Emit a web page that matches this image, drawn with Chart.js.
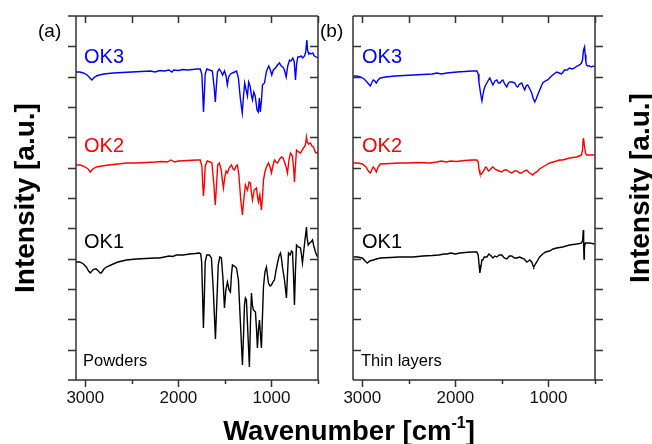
<!DOCTYPE html>
<html>
<head>
<meta charset="utf-8">
<script src="https://cdn.jsdelivr.net/npm/chart.js@4.4.1/dist/chart.umd.min.js"></script>
<style>
  html, body { margin: 0; padding: 0; background: #fff; }
  #wrap { position: relative; width: 652px; height: 444px; overflow: hidden; font-family: "Liberation Sans", Arial, sans-serif; }
  canvas { position: absolute; left: 0; top: 0; }
  .t { position: absolute; white-space: nowrap; line-height: 1; }
  .rot { position: absolute; white-space: nowrap; line-height: 1; font-weight: bold; font-size: 28px; color: #000; text-align: center; width: 260px; transform: translate(-50%, -50%) rotate(-90deg); }
</style>
</head>
<body>
<div id="wrap">
  <canvas id="ca" width="652" height="444"></canvas>
  <canvas id="cb" width="652" height="444"></canvas>
</div>
<script>
// ---------- DATA (wavenumber in cm^-1, intensity in a.u., offset-stacked) ----------
const seriesNames = ['OK3', 'OK2', 'OK1'];
const seriesColors = ['#0000ff', '#ff0000', '#000000'];
const panelTitles = ['(a)', '(b)'];
const panelNotes = ['Powders', 'Thin layers'];
const xTickLabels = [3000, 2000, 1000];
const xMinorTicks = [2500, 1500, 500];

// Panel (a) Powders
const wnA_OK3 = [3100,3060,3020,2980,2950,2930,2910,2880,2850,2800,2700,2600,2500,2400,2300,2250,2200,2150,2100,2070,2050,2000,1950,1900,1850,1800,1765,1748,1738,1730,1722,1712,1695,1665,1635,1615,1603,1592,1580,1562,1545,1525,1505,1488,1474,1460,1440,1420,1395,1375,1355,1335,1314,1300,1288,1272,1258,1245,1230,1214,1204,1190,1175,1155,1142,1130,1120,1107,1097,1075,1055,1040,1029,1012,997,980,957,935,914,895,878,860,842,825,806,790,771,755,742,730,717,700,681,665,645,632,620,612,600,591,575,556,540,520,502];
const inA_OK3 = [308,308,307,305,302,300,302,304,305,306,307,307.5,308,308.5,309,308,309.5,309,310,308,310,309.5,310.5,310,310.5,311,311,306,285,268,284,306,311,310,309,292,278,294,308,311,309,305,309,304,295,303,306,307,308,309,302,282,267,284,297,290,284,298,294,284,280,288,284,270,268,282,268,280,295,297,308,312,314,310,305,310,312,315,317,314,313,310,303,314,320,319,322,318,300,316,323,323,324,322,324,328,340,330,326,327,326,327,324,323,322];

const wnA_OK2 = [3100,3050,3000,2970,2946,2920,2880,2820,2750,2650,2559,2450,2350,2250,2180,2120,2080,2040,2000,1900,1800,1765,1748,1738,1731,1722,1712,1690,1660,1640,1618,1604,1592,1578,1560,1540,1528,1516,1503,1488,1473,1455,1430,1412,1398,1380,1366,1350,1330,1312,1298,1280,1268,1258,1240,1226,1212,1204,1185,1161,1148,1140,1125,1108,1095,1086,1070,1054,1032,1015,1000,985,968,950,935,912,892,875,860,845,828,812,796,775,762,753,742,731,710,688,670,656,640,630,624,615,600,581,565,548,530,516,505];
const inA_OK2 = [215,215,213,211,208,211,213,214,215,216,217,217,217.5,218,218.5,218,220,218,219,219.5,220,220,214,195,184,194,214,219,218,217,195,175,192,215,217,210,200,192,202,209,207,212,215,211,210,214,215,205,180,165,180,195,192,190,198,197,185,180,190,192,182,178,185,170,185,200,208,213,217,213,207,214,220,218,217,221,223,222,218,214,207,220,227,224,212,198,215,230,228,227,230,232,234,238,243,238,236,237,234,233,228,227,228];

const wnA_OK1 = [3100,3060,3020,2990,2965,2946,2920,2900,2882,2860,2840,2828,2800,2774,2700,2650,2559,2450,2350,2250,2204,2150,2100,2060,2022,1950,1880,1820,1774,1760,1750,1740,1731,1722,1712,1695,1667,1645,1625,1602,1590,1572,1555,1538,1520,1505,1490,1473,1455,1441,1430,1419,1400,1376,1355,1335,1312,1300,1290,1280,1269,1255,1237,1225,1215,1205,1194,1172,1160,1151,1140,1129,1118,1108,1098,1086,1070,1054,1043,1032,1015,1000,985,968,950,935,918,903,890,882,860,839,828,817,800,785,774,763,753,742,731,712,688,677,667,652,640,630,624,617,605,591,575,559,545,527,515,505];
const inA_OK1 = [118,118,116,113,109,107,110,111,111,109,107,107,111,113,116,118,120,121,121.5,122,122,123,124,123.5,125,125,126,126.5,127,126,118,85,52,80,118,125,125,122,90,41,70,115,123,122,100,72,90,98,90,88,105,115,114,112,100,60,15,45,75,82,80,50,13,60,87,75,70,68,50,32,50,60,45,32,60,93,108,113,105,97,94,95,98,100,110,117,124,127,120,113,100,82,105,127,125,129,128,105,75,110,135,133,132,125,117,130,140,148,153,142,135,137,138,140,134,128,125,123];

// Panel (b) Thin layers
const wnB_OK3 = [3096,3060,3020,2980,2950,2914,2895,2882,2865,2850,2830,2807,2750,2650,2550,2454,2350,2250,2200,2150,2090,2040,1983,1900,1820,1769,1755,1747,1730,1715,1704,1694,1680,1662,1645,1630,1612,1597,1575,1555,1538,1522,1505,1490,1470,1448,1430,1415,1390,1362,1345,1330,1310,1287,1270,1255,1240,1223,1200,1180,1165,1148,1132,1116,1090,1062,1035,1009,988,966,940,912,885,859,843,827,800,773,746,720,693,666,645,634,623,612,605,598,591,575,559,540,520,505];
const inB_OK3 = [304,304,303,301,298,294,298,300,299,297,300,302,303,304,304.5,305,305.5,306,307,306,307,307.5,308,308.5,309,309,306,298,287,279,285,290,294,297,300,302,298,295,299,300,297,297,299,300,296,293,297,298,298,297,294,293,296,297,293,290,294,295,291,287,282,278,281,285,291,297,299,300,302,304,306,308,307,306,308,310,310,312,311,312,314,315,317,320,330,333,325,318,315,314,314,313,314,313];

const wnB_OK2 = [3096,3050,3000,2960,2935,2914,2895,2882,2865,2850,2830,2807,2700,2600,2500,2400,2272,2200,2150,2100,2050,1990,1900,1820,1769,1755,1745,1737,1720,1705,1690,1675,1662,1645,1630,1612,1597,1575,1555,1530,1501,1475,1448,1420,1394,1365,1340,1310,1287,1260,1233,1215,1201,1185,1169,1150,1126,1095,1062,1025,987,950,912,880,848,810,773,735,698,670,645,634,628,623,615,602,590,575,559,530,505];
const inB_OK2 = [217,217,216,213,209,207,211,213,211,208,213,216,216.5,217,217,217.5,217,218,219,218,219,218.5,219.5,220,220,218,210,207,206,208,210,213,212,209,210,212,213,211,210,209,208,210,210,208,207,209,209,207,207,209,210,208,207,206,205,207,208,211,213,215,217,218,219,220,220,221,222,222.5,223,224,225,230,240,242,235,227,225,225,225,225,225];

const wnB_OK1 = [3096,3050,3000,2970,2946,2920,2882,2850,2807,2700,2600,2454,2350,2250,2180,2120,2090,2050,2000,1950,1900,1820,1769,1755,1745,1737,1728,1715,1705,1690,1662,1640,1615,1597,1575,1555,1530,1501,1475,1448,1420,1394,1365,1340,1310,1287,1260,1233,1215,1201,1180,1165,1158,1140,1126,1095,1062,1030,990,950,912,880,848,810,773,735,698,666,645,632,626,622,618,614,605,591,575,559,530,505];
const inB_OK1 = [123,123,122,119,117,119,120,121,122,122.5,123,123,124,124.5,125,126,126,127,126,127,127.5,128,128,125,115,107,112,120,120,123,123,126,124,122,124,123,125,125,122,121,124,124,122,122,123,122,121,118,119,120,118,114,113,116,118,123,126,128,129,131,132,132.5,133,134,135,135.5,136,136.5,137,140,150,135,121,132,137,137,137,137,136.5,136];

const Y_MAX = 364;           // a.u. axis extent
const Y_TICK_COUNT = 12;     // intervals on intensity axis

// ---------- CHARTS ----------
const FONT = '"Liberation Sans", Arial, sans-serif';
function pairs(wn, vals) { return wn.map((w, i) => ({ x: w, y: vals[i] })); }

const framePlugin = {
  id: 'frame',
  afterDraw(chart, args, opts) {
    const { ctx, chartArea: a, scales: { x, y } } = chart;
    const outLeft = opts.side === 'left';
    const TL = 8;
    ctx.save();
    ctx.strokeStyle = '#333';
    ctx.lineWidth = 1.5;
    ctx.lineCap = 'butt';
    ctx.beginPath();
    const x0 = outLeft ? a.left - TL : a.left;
    const x1 = outLeft ? a.right : a.right + TL;
    ctx.moveTo(x0, a.top); ctx.lineTo(x1, a.top);
    ctx.moveTo(x0, a.bottom); ctx.lineTo(x1, a.bottom);
    ctx.moveTo(a.left, a.top); ctx.lineTo(a.left, a.bottom);
    ctx.moveTo(a.right, a.top); ctx.lineTo(a.right, a.bottom);
    for (let i = 1; i < Y_TICK_COUNT; i++) {
      const py = Math.round(y.getPixelForValue(i * Y_MAX / Y_TICK_COUNT)) + 0.5;
      if (outLeft) {
        ctx.moveTo(a.left - TL, py); ctx.lineTo(a.left, py);
        ctx.moveTo(a.right - TL, py); ctx.lineTo(a.right, py);
      } else {
        ctx.moveTo(a.left, py); ctx.lineTo(a.left + TL, py);
        ctx.moveTo(a.right, py); ctx.lineTo(a.right + TL, py);
      }
    }
    xTickLabels.forEach(v => {
      const px = Math.round(x.getPixelForValue(v)) + 0.5;
      ctx.moveTo(px, a.top); ctx.lineTo(px, a.top + 7);
      ctx.moveTo(px, a.bottom); ctx.lineTo(px, a.bottom + 7);
    });
    xMinorTicks.forEach(v => {
      const px = Math.round(x.getPixelForValue(v)) + 0.5;
      ctx.moveTo(px, a.top); ctx.lineTo(px, a.top + 7);
      ctx.moveTo(px, a.bottom); ctx.lineTo(px, a.bottom + 4);
    });
    ctx.stroke();
    ctx.restore();
  }
};

function makeChart(id, sets, padding, yWidth, side) {
  return new Chart(document.getElementById(id), {
    type: 'line',
    data: {
      datasets: sets.map((s, i) => ({
        label: seriesNames[i],
        data: pairs(s[0], s[1]),
        borderColor: seriesColors[i],
        borderWidth: 1.4,
        pointRadius: 0,
        tension: 0,
        fill: false
      }))
    },
    options: {
      responsive: false,
      animation: false,
      devicePixelRatio: 1,
      layout: { padding },
      plugins: { legend: { display: false }, tooltip: { enabled: false }, frame: { side } },
      scales: {
        x: {
          type: 'linear', reverse: true, min: 500, max: 3100, position: 'bottom',
          afterFit: s => { s.height = 64; },
          afterBuildTicks: s => { s.ticks = xTickLabels.map(v => ({ value: v })); },
          ticks: { callback: v => String(v), font: { family: FONT, size: 17 }, color: '#111', padding: 0, maxRotation: 0, autoSkip: false },
          grid: { display: false }, border: { display: false }
        },
        y: {
          type: 'linear', min: 0, max: Y_MAX, position: 'left',
          afterFit: s => { s.width = yWidth; },
          ticks: { display: false }, grid: { display: false }, border: { display: false }
        }
      }
    },
    plugins: [framePlugin]
  });
}

makeChart('ca', [[wnA_OK3, inA_OK3], [wnA_OK2, inA_OK2], [wnA_OK1, inA_OK1]],
  { left: 0, right: 652 - 318, top: 16, bottom: 0 }, 76, 'left');
makeChart('cb', [[wnB_OK3, inB_OK3], [wnB_OK2, inB_OK2], [wnB_OK1, inB_OK1]],
  { left: 300, right: 652 - 595, top: 16, bottom: 0 }, 53, 'right');

// ---------- TEXT ----------
const wrap = document.getElementById('wrap');
function addText(txt, left, baseline, size, color, bold) {
  const d = document.createElement('div');
  d.className = 't';
  d.textContent = txt;
  d.style.left = left + 'px';
  d.style.top = (baseline - 0.8465 * size) + 'px';
  d.style.fontSize = size + 'px';
  d.style.color = color;
  if (bold) d.style.fontWeight = 'bold';
  wrap.appendChild(d);
  return d;
}
const panelLeft = [84, 362];
const labelBaselines = [62.5, 151.5, 247.5];
panelTitles.forEach((t, p) => addText(t, p === 0 ? 38 : 320, 37, 19, '#000'));
panelNotes.forEach((t, p) => addText(t, panelLeft[p] - 1, 365.5, 16.5, '#000'));
[0, 1].forEach(p => seriesNames.forEach((n, i) => addText(n, panelLeft[p], labelBaselines[i], 20, seriesColors[i])));

const xt = addText('', 0, 440, 27.5, '#000', true);
xt.innerHTML = 'Wavenumber [cm<sup style="font-size:16px;vertical-align:0;position:relative;top:-12px">-1</sup>]';
xt.style.left = '349px';
xt.style.transform = 'translateX(-50%)';

function addRot(txt, cx, cy) {
  const d = document.createElement('div');
  d.className = 'rot';
  d.textContent = txt;
  d.style.left = cx + 'px';
  d.style.top = cy + 'px';
  wrap.appendChild(d);
}
addRot('Intensity [a.u.]', 25, 198);
addRot('Intensity [a.u.]', 640, 188);
</script>
</body>
</html>
